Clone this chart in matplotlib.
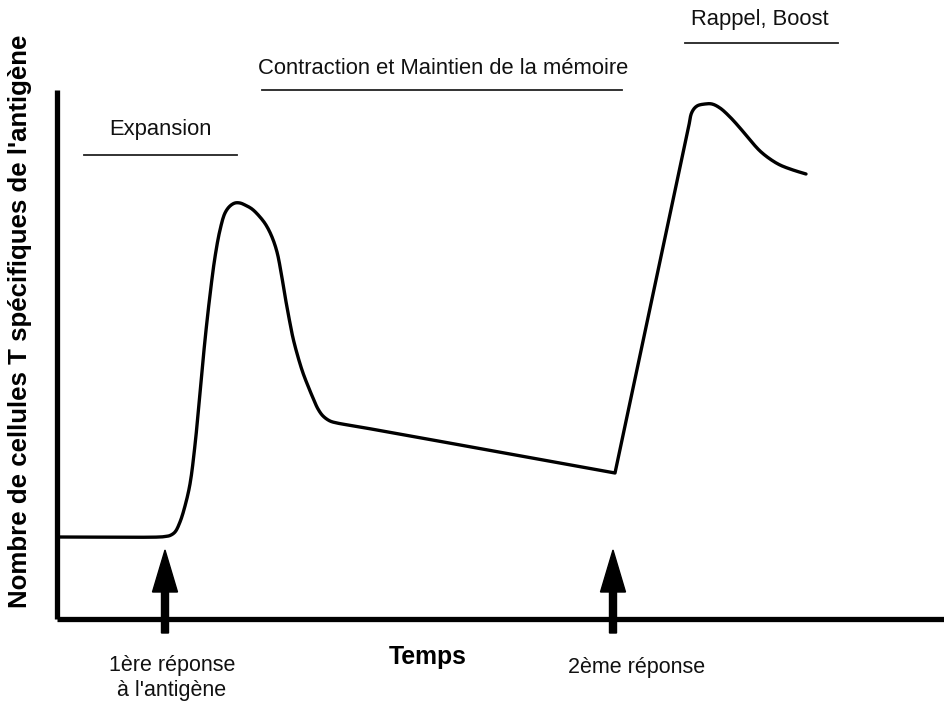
import matplotlib
matplotlib.use("Agg")
import matplotlib.pyplot as plt
import numpy as np

plt.rcParams['font.family'] = ['Liberation Sans', 'DejaVu Sans']

# Courbe schematique (unites arbitraires : temps, nombre de cellules)
temps = [0, 103, 108, 113, 118, 123, 128, 133, 138, 143, 148, 153, 158, 163, 168,
         173, 178, 183, 188, 195, 203, 209, 215, 220, 224, 228, 232, 236, 241, 246,
         251, 256, 261, 266, 273, 280, 291, 303, 558, 631, 635, 640, 648, 655, 663,
         673, 683, 693, 703, 713, 723, 736, 749]
cellules = [82, 82, 82.5, 83.5, 87, 97, 113, 135, 174, 226, 279, 324, 362, 389, 406,
            413, 416, 416, 414, 410, 402, 394, 382, 367, 347, 323, 301, 281, 262, 246,
            233, 221, 210, 203, 198, 196, 194, 192, 146, 489, 507, 513, 515, 515, 511,
            502, 491, 479, 468, 460, 454, 449, 445]
coin = 38  # angle vif au moment du rappel

# Stimulations antigeniques
stim_t = [108, 556]
stim_labels = ["1ère réponse\nà l'antigène", "2ème réponse"]
stim_label_pos = [(115, -59), (580, -49)]

# Phases
phases = ["Expansion", "Contraction et Maintien de la mémoire", "Rappel, Boost"]
phase_start = [27, 205, 628]
phase_end = [180, 565, 781]
phase_line_y = [464, 529, 576]
phase_text_pos = [(103, 489), (386, 551), (703, 599)]


def lisse(x, y, n=12):
    # Catmull-Rom centripete, pour arrondir le trace entre les points lus
    p = np.column_stack([x, y]).astype(float)
    p = np.vstack([2 * p[0] - p[1], p, 2 * p[-1] - p[-2]])
    out = []
    for i in range(1, len(p) - 2):
        P0, P1, P2, P3 = p[i - 1], p[i], p[i + 1], p[i + 2]
        t0 = 0.0
        t1 = t0 + np.linalg.norm(P1 - P0) ** 0.5
        t2 = t1 + np.linalg.norm(P2 - P1) ** 0.5
        t3 = t2 + np.linalg.norm(P3 - P2) ** 0.5
        t = np.linspace(t1, t2, n, endpoint=False)[:, None]
        A1 = (t1 - t) / (t1 - t0) * P0 + (t - t0) / (t1 - t0) * P1
        A2 = (t2 - t) / (t2 - t1) * P1 + (t - t1) / (t2 - t1) * P2
        A3 = (t3 - t) / (t3 - t2) * P2 + (t - t2) / (t3 - t2) * P3
        B1 = (t2 - t) / (t2 - t0) * A1 + (t - t0) / (t2 - t0) * A2
        B2 = (t3 - t) / (t3 - t1) * A2 + (t - t1) / (t3 - t1) * A3
        out.append((t2 - t) / (t2 - t1) * B1 + (t - t1) / (t2 - t1) * B2)
    out.append(p[-2][None, :])
    out = np.vstack(out)
    return out[:, 0], out[:, 1]


fig = plt.figure(figsize=(9.44, 7.06), dpi=100)
ax = fig.add_axes([57 / 944, 87 / 706, 887 / 944, 529 / 706])
ax.set_xlim(0, 887)
ax.set_ylim(0, 529)

xa, ya = lisse(temps[:coin + 1], cellules[:coin + 1])
xb, yb = lisse(temps[coin:], cellules[coin:])
ax.plot(np.concatenate([xa, xb]), np.concatenate([ya, yb]), color='black', lw=2.4,
        solid_joinstyle='round', solid_capstyle='round')

for t in stim_t:
    ax.arrow(t, -14, 0, 83, width=7, head_width=25, head_length=42,
             length_includes_head=True, color='black', clip_on=False, zorder=5)

for lab, (x, y) in zip(stim_labels, stim_label_pos):
    ax.text(x, y, lab, ha='center', va='center', fontsize=15.5, linespacing=1.2,
            color='#111111', clip_on=False)

for name, x0, x1, ly, (tx, ty) in zip(phases, phase_start, phase_end, phase_line_y, phase_text_pos):
    ax.plot([x0, x1], [ly, ly], color='#222222', lw=1.3, clip_on=False)
    ax.text(tx, ty, name, ha='center', va='center', fontsize=15.8, color='#111111',
            clip_on=False)

ax.text(371, -38, "Temps", ha='center', va='center', fontsize=17.8,
        fontweight='bold', clip_on=False)
fig.text(20 / 944, 1 - 321 / 706, "Nombre de cellules T spécifiques de l'antigène",
         rotation=90, ha='center', va='center', fontsize=18.6, fontweight='bold')

for s in ['top', 'right']:
    ax.spines[s].set_visible(False)
for s in ['left', 'bottom']:
    ax.spines[s].set_linewidth(3.8)
    ax.spines[s].set_capstyle('butt')
ax.set_xticks([])
ax.set_yticks([])

fig.savefig("out.png", dpi=100)
